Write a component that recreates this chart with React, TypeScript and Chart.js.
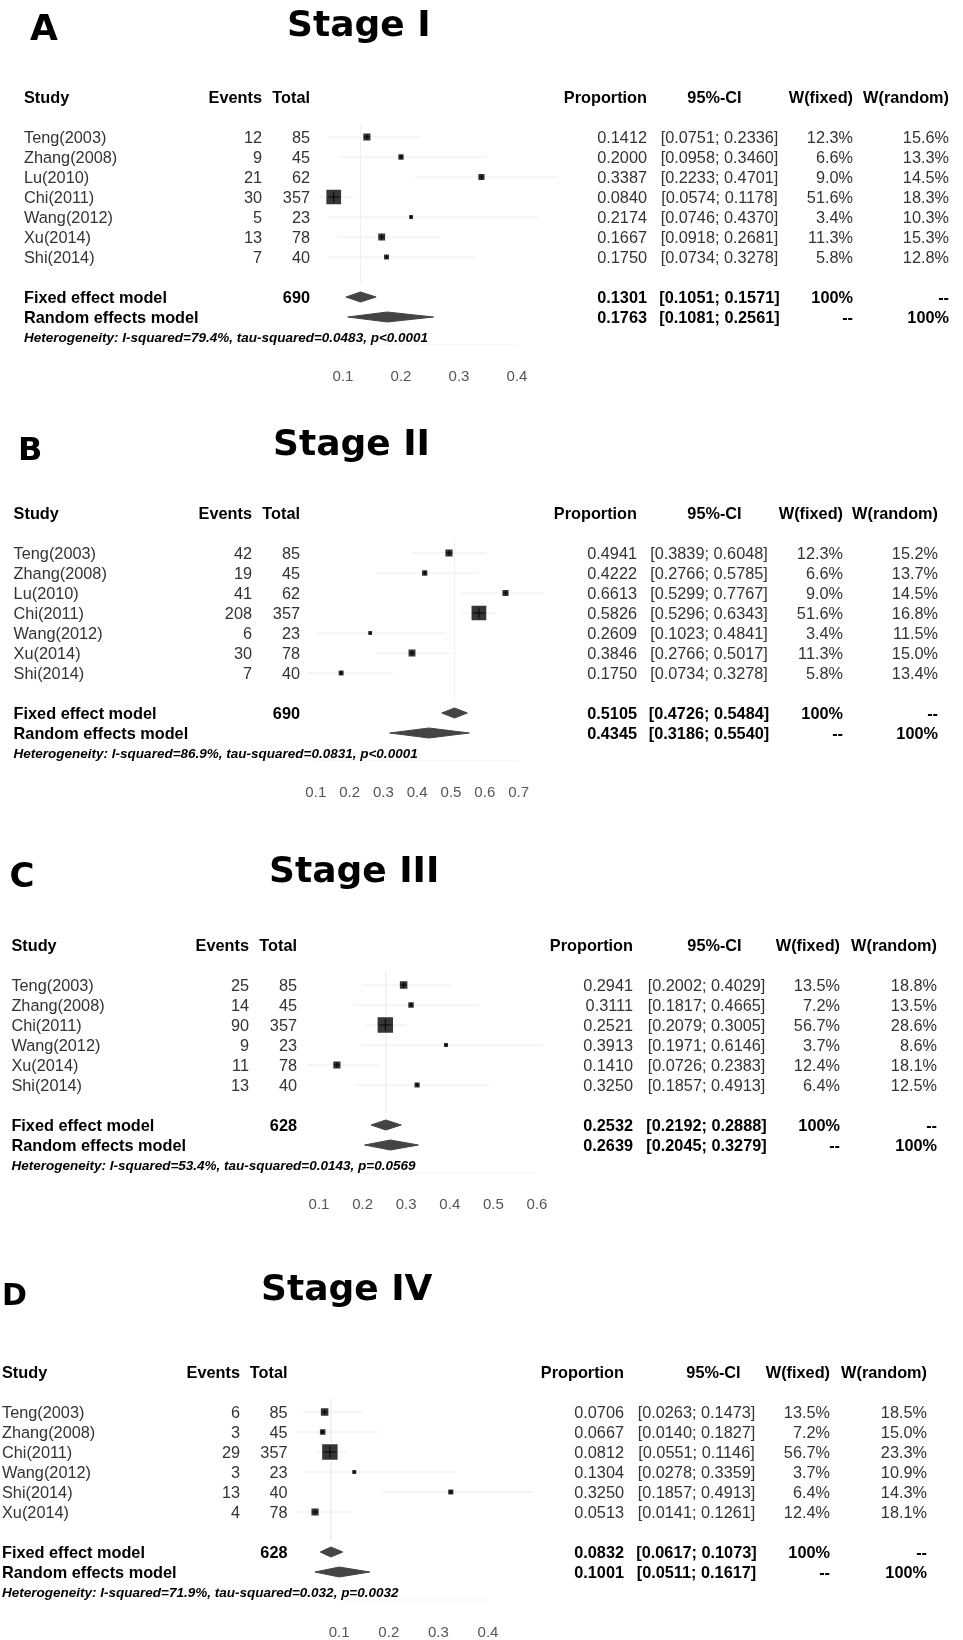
import React, { useEffect, useRef } from "react";
import { Chart, registerables } from "chart.js";

Chart.register(...registerables);

// ---------- Stage I ----------
const STUDIES_I = ["Teng(2003)", "Zhang(2008)", "Lu(2010)", "Chi(2011)", "Wang(2012)", "Xu(2014)", "Shi(2014)"];
const EVENTS_I = [12, 9, 21, 30, 5, 13, 7];
const TOTALS_I = [85, 45, 62, 357, 23, 78, 40];
const PROP_I = [0.1412, 0.2, 0.3387, 0.084, 0.2174, 0.1667, 0.175];
const LOWER_I = [0.0751, 0.0958, 0.2233, 0.0574, 0.0746, 0.0918, 0.0734];
const UPPER_I = [0.2336, 0.346, 0.4701, 0.1178, 0.437, 0.2681, 0.3278];
const WFIXED_I = [12.3, 6.6, 9.0, 51.6, 3.4, 11.3, 5.8];
const WRANDOM_I = [15.6, 13.3, 14.5, 18.3, 10.3, 15.3, 12.8];
const FIXED_I = [0.1301, 0.1051, 0.1571];
const RANDOM_I = [0.1763, 0.1081, 0.2561];
const N_I = 690;
const HET_I = "Heterogeneity: I-squared=79.4%, tau-squared=0.0483, p<0.0001";
const TICKS_I = [0.1, 0.2, 0.3, 0.4];

// ---------- Stage II ----------
const STUDIES_II = ["Teng(2003)", "Zhang(2008)", "Lu(2010)", "Chi(2011)", "Wang(2012)", "Xu(2014)", "Shi(2014)"];
const EVENTS_II = [42, 19, 41, 208, 6, 30, 7];
const TOTALS_II = [85, 45, 62, 357, 23, 78, 40];
const PROP_II = [0.4941, 0.4222, 0.6613, 0.5826, 0.2609, 0.3846, 0.175];
const LOWER_II = [0.3839, 0.2766, 0.5299, 0.5296, 0.1023, 0.2766, 0.0734];
const UPPER_II = [0.6048, 0.5785, 0.7767, 0.6343, 0.4841, 0.5017, 0.3278];
const WFIXED_II = [12.3, 6.6, 9.0, 51.6, 3.4, 11.3, 5.8];
const WRANDOM_II = [15.2, 13.7, 14.5, 16.8, 11.5, 15.0, 13.4];
const FIXED_II = [0.5105, 0.4726, 0.5484];
const RANDOM_II = [0.4345, 0.3186, 0.554];
const N_II = 690;
const HET_II = "Heterogeneity: I-squared=86.9%, tau-squared=0.0831, p<0.0001";
const TICKS_II = [0.1, 0.2, 0.3, 0.4, 0.5, 0.6, 0.7];

// ---------- Stage III ----------
const STUDIES_III = ["Teng(2003)", "Zhang(2008)", "Chi(2011)", "Wang(2012)", "Xu(2014)", "Shi(2014)"];
const EVENTS_III = [25, 14, 90, 9, 11, 13];
const TOTALS_III = [85, 45, 357, 23, 78, 40];
const PROP_III = [0.2941, 0.3111, 0.2521, 0.3913, 0.141, 0.325];
const LOWER_III = [0.2002, 0.1817, 0.2079, 0.1971, 0.0726, 0.1857];
const UPPER_III = [0.4029, 0.4665, 0.3005, 0.6146, 0.2383, 0.4913];
const WFIXED_III = [13.5, 7.2, 56.7, 3.7, 12.4, 6.4];
const WRANDOM_III = [18.8, 13.5, 28.6, 8.6, 18.1, 12.5];
const FIXED_III = [0.2532, 0.2192, 0.2888];
const RANDOM_III = [0.2639, 0.2045, 0.3279];
const N_III = 628;
const HET_III = "Heterogeneity: I-squared=53.4%, tau-squared=0.0143, p=0.0569";
const TICKS_III = [0.1, 0.2, 0.3, 0.4, 0.5, 0.6];

// ---------- Stage IV ----------
const STUDIES_IV = ["Teng(2003)", "Zhang(2008)", "Chi(2011)", "Wang(2012)", "Shi(2014)", "Xu(2014)"];
const EVENTS_IV = [6, 3, 29, 3, 13, 4];
const TOTALS_IV = [85, 45, 357, 23, 40, 78];
const PROP_IV = [0.0706, 0.0667, 0.0812, 0.1304, 0.325, 0.0513];
const LOWER_IV = [0.0263, 0.014, 0.0551, 0.0278, 0.1857, 0.0141];
const UPPER_IV = [0.1473, 0.1827, 0.1146, 0.3359, 0.4913, 0.1261];
const WFIXED_IV = [13.5, 7.2, 56.7, 3.7, 6.4, 12.4];
const WRANDOM_IV = [18.5, 15.0, 23.3, 10.9, 14.3, 18.1];
const FIXED_IV = [0.0832, 0.0617, 0.1073];
const RANDOM_IV = [0.1001, 0.0511, 0.1617];
const N_IV = 628;
const HET_IV = "Heterogeneity: I-squared=71.9%, tau-squared=0.032, p=0.0032";
const TICKS_IV = [0.1, 0.2, 0.3, 0.4];

const SANS = '"Liberation Sans", Arial, Helvetica, sans-serif';
const DISPLAY = '"DejaVu Sans", "Liberation Sans", sans-serif';
const ROW = 20;
const TABLE_SIZE = 16.3;
const HET_SIZE = 13.5;
const TICK_SIZE = 15;
const SQUARE_SCALE = 2.05;
const WIDTH = 963;

type PanelData = {
  letter: string;
  title: string;
  studies: string[];
  events: number[];
  totals: number[];
  prop: number[];
  lower: number[];
  upper: number[];
  wFixed: number[];
  wRandom: number[];
  fixed: number[];
  random: number[];
  n: number;
  het: string;
  ticks: number[];
};

type PanelLayout = {
  top: number;
  height: number;
  rowY0: number;
  tickY: number;
  x0: number;
  k: number;
  xMin: number;
  xMax: number;
  letterX: number;
  letterBase: number;
  letterSize: number;
  titleX: number;
  titleBase: number;
  studyX: number;
  eventsR: number;
  totalR: number;
  propR: number;
  ciC: number;
  ciHeadC: number;
  wfR: number;
  wrR: number;
};

const PANELS: PanelData[] = [
  { letter: "A", title: "Stage I", studies: STUDIES_I, events: EVENTS_I, totals: TOTALS_I, prop: PROP_I, lower: LOWER_I, upper: UPPER_I, wFixed: WFIXED_I, wRandom: WRANDOM_I, fixed: FIXED_I, random: RANDOM_I, n: N_I, het: HET_I, ticks: TICKS_I },
  { letter: "B", title: "Stage II", studies: STUDIES_II, events: EVENTS_II, totals: TOTALS_II, prop: PROP_II, lower: LOWER_II, upper: UPPER_II, wFixed: WFIXED_II, wRandom: WRANDOM_II, fixed: FIXED_II, random: RANDOM_II, n: N_II, het: HET_II, ticks: TICKS_II },
  { letter: "C", title: "Stage III", studies: STUDIES_III, events: EVENTS_III, totals: TOTALS_III, prop: PROP_III, lower: LOWER_III, upper: UPPER_III, wFixed: WFIXED_III, wRandom: WRANDOM_III, fixed: FIXED_III, random: RANDOM_III, n: N_III, het: HET_III, ticks: TICKS_III },
  { letter: "D", title: "Stage IV", studies: STUDIES_IV, events: EVENTS_IV, totals: TOTALS_IV, prop: PROP_IV, lower: LOWER_IV, upper: UPPER_IV, wFixed: WFIXED_IV, wRandom: WRANDOM_IV, fixed: FIXED_IV, random: RANDOM_IV, n: N_IV, het: HET_IV, ticks: TICKS_IV },
];

const LAYOUTS: PanelLayout[] = [
  { top: 0, height: 410, rowY0: 117, tickY: 377, x0: 285, k: 580, xMin: 0.04, xMax: 0.48, letterX: 30, letterBase: 40, letterSize: 36, titleX: 287, titleBase: 36, studyX: 24, eventsR: 262, totalR: 310, propR: 647, ciC: 719.5, ciHeadC: 714.5, wfR: 853, wrR: 949 },
  { top: 410, height: 430, rowY0: 123, tickY: 383, x0: 282, k: 338, xMin: 0.06, xMax: 0.79, letterX: 18, letterBase: 50, letterSize: 32, titleX: 273, titleBase: 45, studyX: 13.6, eventsR: 252, totalR: 300, propR: 637, ciC: 709, ciHeadC: 714.5, wfR: 843, wrR: 938 },
  { top: 840, height: 420, rowY0: 125, tickY: 365, x0: 275.4, k: 436, xMin: 0.06, xMax: 0.62, letterX: 9.5, letterBase: 47, letterSize: 34, titleX: 269, titleBase: 42, studyX: 11.4, eventsR: 249, totalR: 297, propR: 633, ciC: 706.5, ciHeadC: 714.5, wfR: 840, wrR: 937 },
  { top: 1260, height: 400, rowY0: 132, tickY: 373, x0: 289.6, k: 496, xMin: 0.0, xMax: 0.5, letterX: 2, letterBase: 45, letterSize: 30, titleX: 261, titleBase: 40, studyX: 2, eventsR: 240, totalR: 287.5, propR: 624, ciC: 696.5, ciHeadC: 713.5, wfR: 830, wrR: 927 },
];

const fmt4 = (v: number) => v.toFixed(4);
const fmtCI = (lo: number, hi: number) => `[${fmt4(lo)}; ${fmt4(hi)}]`;
const fmtW = (w: number) => `${w.toFixed(1)}%`;

function text(
  ctx: CanvasRenderingContext2D,
  s: string,
  x: number,
  yCenter: number,
  align: CanvasTextAlign,
  font: string,
  size: number,
  color: string
) {
  ctx.font = font;
  ctx.fillStyle = color;
  ctx.textAlign = align;
  ctx.textBaseline = "alphabetic";
  ctx.fillText(s, x, yCenter + size * 0.36);
}

function buildChart(canvas: HTMLCanvasElement, d: PanelData, L: PanelLayout) {
  const k = d.studies.length;
  const rows = d.studies.map((_, i) => i + 1);
  const fixedRow = k + 2;
  const randomRow = k + 3;
  const hetRow = k + 4;
  const yMax = k + 5;

  const plotLeft = L.x0 + L.k * L.xMin;
  const plotRight = L.x0 + L.k * L.xMax;
  const bottom = L.rowY0 + yMax * ROW;
  const tickPad = L.tickY - bottom - TICK_SIZE / 2;
  const axisH = TICK_SIZE + 2 * tickPad;

  const sides = d.wFixed.map((w) => SQUARE_SCALE * Math.sqrt(w));

  const ciData: any[] = [];
  rows.forEach((r, i) => {
    ciData.push({ x: d.lower[i], y: r });
    ciData.push({ x: d.upper[i], y: r });
    ciData.push({ x: d.upper[i], y: null });
  });

  const diamond = (est: number[], r: number) => [
    { x: est[1], y: r },
    { x: est[0], y: r - 0.25 },
    { x: est[2], y: r },
    { x: est[0], y: r + 0.25 },
    { x: est[1], y: r },
  ];

  const textPlugin = {
    id: "forestTable",
    afterDraw(chart: any) {
      const ctx: CanvasRenderingContext2D = chart.ctx;
      const y = (r: number) => chart.scales.y.getPixelForValue(r);
      ctx.save();

      // panel letter and title
      ctx.font = `bold ${L.letterSize}px ${DISPLAY}`;
      ctx.fillStyle = "#000";
      ctx.textAlign = "left";
      ctx.textBaseline = "alphabetic";
      ctx.fillText(d.letter, L.letterX, L.letterBase);
      ctx.font = `bold 36px ${DISPLAY}`;
      ctx.fillText(d.title, L.titleX, L.titleBase);

      const reg = `${TABLE_SIZE}px ${SANS}`;
      const bold = `bold ${TABLE_SIZE}px ${SANS}`;
      const ink = "#333";
      const S = TABLE_SIZE;

      // header row
      const hy = y(-1);
      text(ctx, "Study", L.studyX, hy, "left", bold, S, "#000");
      text(ctx, "Events", L.eventsR, hy, "right", bold, S, "#000");
      text(ctx, "Total", L.totalR, hy, "right", bold, S, "#000");
      text(ctx, "Proportion", L.propR, hy, "right", bold, S, "#000");
      text(ctx, "95%-CI", L.ciHeadC, hy, "center", bold, S, "#000");
      text(ctx, "W(fixed)", L.wfR, hy, "right", bold, S, "#000");
      text(ctx, "W(random)", L.wrR, hy, "right", bold, S, "#000");

      // study rows
      rows.forEach((r, i) => {
        const ry = y(r);
        text(ctx, d.studies[i], L.studyX, ry, "left", reg, S, ink);
        text(ctx, String(d.events[i]), L.eventsR, ry, "right", reg, S, ink);
        text(ctx, String(d.totals[i]), L.totalR, ry, "right", reg, S, ink);
        text(ctx, fmt4(d.prop[i]), L.propR, ry, "right", reg, S, ink);
        text(ctx, fmtCI(d.lower[i], d.upper[i]), L.ciC, ry, "center", reg, S, ink);
        text(ctx, fmtW(d.wFixed[i]), L.wfR, ry, "right", reg, S, ink);
        text(ctx, fmtW(d.wRandom[i]), L.wrR, ry, "right", reg, S, ink);
      });

      // pooled rows
      const fy = y(fixedRow);
      text(ctx, "Fixed effect model", L.studyX, fy, "left", bold, S, "#000");
      text(ctx, String(d.n), L.totalR, fy, "right", bold, S, "#000");
      text(ctx, fmt4(d.fixed[0]), L.propR, fy, "right", bold, S, "#000");
      text(ctx, fmtCI(d.fixed[1], d.fixed[2]), L.ciC, fy, "center", bold, S, "#000");
      text(ctx, "100%", L.wfR, fy, "right", bold, S, "#000");
      text(ctx, "--", L.wrR, fy, "right", bold, S, "#000");

      const ry2 = y(randomRow);
      text(ctx, "Random effects model", L.studyX, ry2, "left", bold, S, "#000");
      text(ctx, fmt4(d.random[0]), L.propR, ry2, "right", bold, S, "#000");
      text(ctx, fmtCI(d.random[1], d.random[2]), L.ciC, ry2, "center", bold, S, "#000");
      text(ctx, "--", L.wfR, ry2, "right", bold, S, "#000");
      text(ctx, "100%", L.wrR, ry2, "right", bold, S, "#000");

      text(ctx, d.het, L.studyX, y(hetRow), "left", `italic bold ${HET_SIZE}px ${SANS}`, HET_SIZE, "#000");

      ctx.restore();
    },
  };

  return new Chart(canvas, {
    type: "scatter",
    data: {
      datasets: [
        {
          // reference line at the fixed-effect estimate
          data: [
            { x: d.fixed[0], y: 0.3 },
            { x: d.fixed[0], y: k + 1.4 },
          ],
          showLine: true,
          borderColor: "#f1f1f1",
          borderWidth: 1,
          pointRadius: 0,
          order: 5,
        },
        {
          // horizontal axis line between the outer ticks
          data: [
            { x: d.ticks[0], y: k + 4.4 },
            { x: d.ticks[d.ticks.length - 1], y: k + 4.4 },
          ],
          showLine: true,
          borderColor: "#f3f3f3",
          borderWidth: 1,
          pointRadius: 0,
          order: 5,
        },
        {
          // confidence intervals
          data: ciData,
          showLine: true,
          spanGaps: false,
          borderColor: "#ececec",
          borderWidth: 1,
          pointRadius: 0,
          order: 4,
        },
        {
          // study estimates, area proportional to fixed-effect weight
          data: rows.map((r, i) => ({ x: d.prop[i], y: r })),
          pointStyle: "rect",
          pointRadius: sides.map((s) => s / 2 / Math.SQRT1_2),
          pointHoverRadius: sides.map((s) => s / 2 / Math.SQRT1_2),
          backgroundColor: "#363636",
          borderWidth: 0,
          order: 2,
        },
        {
          data: rows.map((r, i) => ({ x: d.prop[i], y: r })),
          pointStyle: "cross",
          pointRadius: sides.map((s) => s * 0.38),
          borderColor: "#000",
          borderWidth: 1,
          order: 1,
        },
        {
          // fixed-effect diamond
          data: diamond(d.fixed, fixedRow),
          showLine: true,
          fill: "shape",
          backgroundColor: "#444",
          borderColor: "#444",
          borderWidth: 1,
          pointRadius: 0,
          tension: 0,
          order: 2,
        },
        {
          // random-effects diamond
          data: diamond(d.random, randomRow),
          showLine: true,
          fill: "shape",
          backgroundColor: "#444",
          borderColor: "#444",
          borderWidth: 1,
          pointRadius: 0,
          tension: 0,
          order: 2,
        },
      ] as any,
    },
    options: {
      responsive: false,
      animation: false,
      devicePixelRatio: 1,
      events: [],
      layout: {
        padding: {
          left: plotLeft,
          right: WIDTH - plotRight,
          top: L.rowY0,
          bottom: L.height - bottom - axisH,
        },
      },
      plugins: {
        legend: { display: false },
        tooltip: { enabled: false },
        title: { display: false },
      },
      scales: {
        x: {
          type: "linear",
          min: L.xMin,
          max: L.xMax,
          grid: { display: false, drawTicks: false },
          border: { display: false },
          afterBuildTicks: (scale: any) => {
            scale.ticks = d.ticks.map((v) => ({ value: v }));
          },
          ticks: {
            autoSkip: false,
            maxRotation: 0,
            padding: tickPad,
            color: "#555",
            font: { family: SANS, size: TICK_SIZE, lineHeight: 1 },
            callback: (v: any) => Number(v).toFixed(1),
          },
        },
        y: {
          type: "linear",
          min: 0,
          max: yMax,
          reverse: true,
          display: false,
        },
      },
    } as any,
    plugins: [textPlugin],
  });
}

export default function App() {
  const refs = [
    useRef<HTMLCanvasElement>(null),
    useRef<HTMLCanvasElement>(null),
    useRef<HTMLCanvasElement>(null),
    useRef<HTMLCanvasElement>(null),
  ];

  useEffect(() => {
    const charts = PANELS.map((p, i) => buildChart(refs[i].current as HTMLCanvasElement, p, LAYOUTS[i]));
    return () => charts.forEach((c) => c.destroy());
  }, []);

  return (
    <div
      style={{
        position: "absolute",
        left: 0,
        top: 0,
        width: WIDTH,
        height: 1640,
        overflow: "hidden",
        background: "#fff",
      }}
    >
      {LAYOUTS.map((L, i) => (
        <canvas
          key={i}
          ref={refs[i]}
          width={WIDTH}
          height={L.height}
          style={{ position: "absolute", left: 0, top: L.top, width: WIDTH, height: L.height }}
        />
      ))}
    </div>
  );
}
